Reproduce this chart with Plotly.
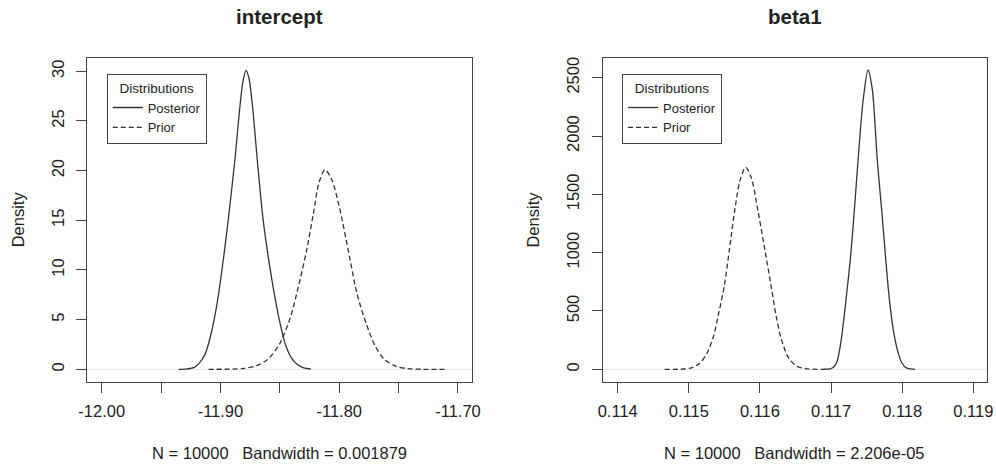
import plotly.graph_objects as go

# ---------------- data ----------------
int_post_x = [-11.935, -11.928, -11.922, -11.918, -11.913, -11.908, -11.903, -11.8976, -11.893,
              -11.8878, -11.884, -11.881, -11.8785, -11.876, -11.873, -11.869, -11.864, -11.8583,
              -11.853, -11.849, -11.845, -11.840, -11.835, -11.830, -11.824]
int_post_y = [0.0, 0.05, 0.2, 0.6, 1.5, 3.5, 6.5, 11.0, 15.5,
              21.1, 26.0, 29.0, 30.1, 29.3, 26.5, 21.1, 15.0, 10.2,
              6.5, 4.2, 2.4, 1.1, 0.45, 0.15, 0.03]

int_prior_x = [-11.910, -11.890, -11.880, -11.870, -11.860, -11.850, -11.8409, -11.835,
               -11.8274, -11.822, -11.817, -11.812, -11.806, -11.800, -11.7924, -11.785, -11.777,
               -11.770, -11.762, -11.752, -11.742, -11.730, -11.711]
int_prior_y = [0.0, 0.02, 0.1, 0.35, 1.0, 2.6, 5.3, 8.0,
               12.0, 15.5, 18.8, 20.1, 19.0, 16.4, 12.0, 7.6, 4.5,
               2.4, 1.0, 0.3, 0.06, 0.0, 0.0]

b1_post_x = [0.11689, 0.11698, 0.11703, 0.11708, 0.11713, 0.11718, 0.11722, 0.11727, 0.11732,
             0.11738, 0.11745, 0.11752, 0.11758, 0.11765, 0.11771, 0.11777, 0.11782, 0.11788,
             0.11794, 0.11800, 0.11806, 0.11812, 0.11818]
b1_post_y = [0, 3, 15, 60, 200, 430, 650, 937, 1300,
             1794, 2300, 2566, 2400, 1794, 1380, 937, 600, 320,
             150, 50, 12, 3, 0]

b1_prior_x = [0.11466, 0.11490, 0.11505, 0.11515, 0.11525, 0.11535, 0.11541, 0.11550, 0.11557,
              0.11565, 0.11572, 0.11580, 0.11588, 0.11596, 0.11607, 0.11615, 0.11623, 0.11630,
              0.11640, 0.11652, 0.11665, 0.11680, 0.11693]
b1_prior_y = [0, 2, 15, 50, 130, 290, 451, 720, 1023,
              1380, 1620, 1732, 1640, 1400, 1023, 740, 451, 260,
              100, 25, 5, 0, 0]

int_xticks = [-12.00, -11.95, -11.90, -11.85, -11.80, -11.75, -11.70]
int_xtext = ["-12.00", "", "-11.90", "", "-11.80", "", "-11.70"]
int_yticks = [0, 5, 10, 15, 20, 25, 30]
b1_xticks = [0.114, 0.115, 0.116, 0.117, 0.118, 0.119]
b1_xtext = ["0.114", "0.115", "0.116", "0.117", "0.118", "0.119"]
b1_yticks = [0, 500, 1000, 1500, 2000, 2500]

titles = ["intercept", "beta1"]
subtitles = ["N = 10000   Bandwidth = 0.001879", "N = 10000   Bandwidth = 2.206e-05"]
series_names = ["Posterior", "Prior"]

# ---------------- figure ----------------
W, H = 996, 466
FONT = "Liberation Sans, Arial, Helvetica, sans-serif"
TXT = "#222222"
LINE = "#333333"
BOX = "#444444"

fig = go.Figure()

def px(v):
    return v / W

def py(v):
    return 1 - v / H

L = dict(x0=87.3, x1=472.0)
R = dict(x0=602.7, x1=987.0)
top, bot = 58.0, 381.7

def line_style(dashed):
    d = dict(color=LINE, width=1.3, shape="spline", smoothing=0.8)
    if dashed:
        d["dash"] = "5px,3px"
    return d

fig.add_trace(go.Scatter(x=int_post_x, y=int_post_y, mode="lines", name=series_names[0],
                         line=line_style(False), xaxis="x", yaxis="y", legend="legend"))
fig.add_trace(go.Scatter(x=int_prior_x, y=int_prior_y, mode="lines", name=series_names[1],
                         line=line_style(True), xaxis="x", yaxis="y", legend="legend"))
fig.add_trace(go.Scatter(x=b1_post_x, y=b1_post_y, mode="lines", name=series_names[0],
                         line=line_style(False), xaxis="x2", yaxis="y2", legend="legend2"))
fig.add_trace(go.Scatter(x=b1_prior_x, y=b1_prior_y, mode="lines", name=series_names[1],
                         line=line_style(True), xaxis="x2", yaxis="y2", legend="legend2"))

axis_common = dict(showline=True, linecolor=BOX, linewidth=1, mirror=True, showgrid=False,
                   ticks="outside", ticklen=10, tickcolor=BOX, tickwidth=1, automargin=False,
                   tickfont=dict(family=FONT, size=16.5, color=TXT))

legend_common = dict(xanchor="left", yanchor="top",
                     bordercolor=BOX, borderwidth=1, bgcolor="white",
                     font=dict(family=FONT, size=13, color=TXT),
                     title=dict(text="Distributions", side="top center",
                                font=dict(family=FONT, size=13.5, color=TXT)),
                     itemwidth=30, tracegroupgap=0, entrywidth=66)

fig.update_layout(
    width=W, height=H, margin=dict(l=0, r=0, t=0, b=0, autoexpand=False),
    paper_bgcolor="white", plot_bgcolor="white",
    font=dict(family=FONT, color=TXT),
    xaxis=dict(domain=[px(L["x0"]), px(L["x1"])], range=[-12.0121, -11.6882],
               tickmode="array", tickvals=int_xticks, ticktext=int_xtext, zeroline=False,
               ticklabelstandoff=4, anchor="y", **axis_common),
    yaxis=dict(domain=[py(bot), py(top)], range=[-1.25, 31.34],
               tickmode="array", tickvals=int_yticks, ticktext=[str(v) for v in int_yticks],
               tickangle=-90, zeroline=True, zerolinecolor="#e6e6e6", zerolinewidth=1,
               ticklabelstandoff=6, anchor="x", **axis_common),
    xaxis2=dict(domain=[px(R["x0"]), px(R["x1"])], range=[0.113789, 0.119193],
                tickmode="array", tickvals=b1_xticks, ticktext=b1_xtext, zeroline=False,
                ticklabelstandoff=4, anchor="y2", **axis_common),
    yaxis2=dict(domain=[py(bot), py(top)], range=[-106.3, 2668.9],
                tickmode="array", tickvals=b1_yticks, ticktext=[str(v) for v in b1_yticks],
                tickangle=-90, zeroline=True, zerolinecolor="#e6e6e6", zerolinewidth=1,
                ticklabelstandoff=6, anchor="x2", **axis_common),
    legend=dict(x=px(106.7), y=py(74), **legend_common),
    legend2=dict(x=px(622), y=py(74), **legend_common),
    showlegend=True,
)

annots = []
for (p, t, s) in [(L, titles[0], subtitles[0]), (R, titles[1], subtitles[1])]:
    cx = (p["x0"] + p["x1"]) / 2
    annots.append(dict(x=px(cx), y=py(17), xref="paper", yref="paper", text="<b>" + t + "</b>",
                       showarrow=False, xanchor="center", yanchor="middle",
                       font=dict(family=FONT, size=20.5, color=TXT)))
    annots.append(dict(x=px(cx), y=py(452.7), xref="paper", yref="paper", text=s,
                       showarrow=False, xanchor="center", yanchor="middle",
                       font=dict(family=FONT, size=16.5, color=TXT)))
for xc in [17.5, 532.7]:
    annots.append(dict(x=px(xc), y=py((top + bot) / 2), xref="paper", yref="paper", text="Density",
                       showarrow=False, xanchor="center", yanchor="middle", textangle=-90,
                       font=dict(family=FONT, size=16.5, color=TXT)))
fig.update_layout(annotations=annots)

fig.write_html("out.html")
